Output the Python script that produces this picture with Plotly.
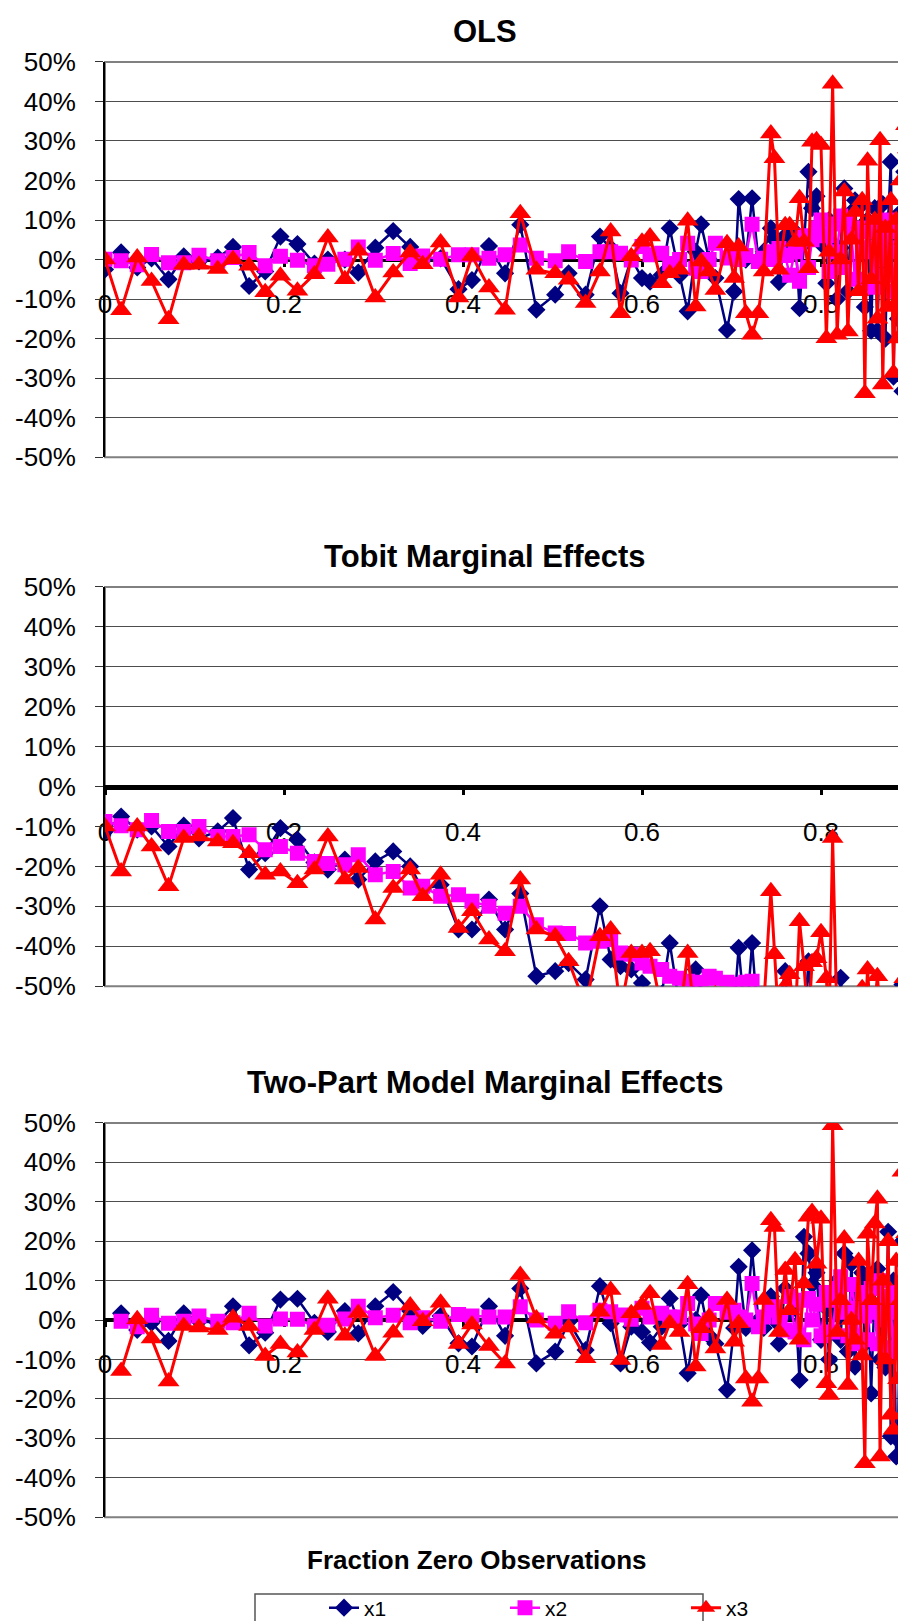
import plotly.graph_objects as go

# ---------------- data ----------------
x_frac = [
    0.000, 0.018, 0.036, 0.052, 0.071, 0.088, 0.105, 0.126, 0.143, 0.161,
    0.179, 0.196, 0.215, 0.234, 0.249, 0.268, 0.283, 0.302, 0.322, 0.341,
    0.355, 0.375, 0.395, 0.410, 0.429, 0.447, 0.464, 0.482, 0.503, 0.518,
    0.537, 0.553, 0.565, 0.576, 0.588, 0.600, 0.609, 0.622, 0.631, 0.642,
    0.651, 0.660, 0.666, 0.675, 0.682, 0.695, 0.703, 0.708, 0.716, 0.723,
    0.730, 0.736, 0.744, 0.748, 0.753, 0.760, 0.765, 0.771, 0.776, 0.781,
    0.786, 0.790, 0.795, 0.800, 0.806, 0.809, 0.813, 0.818, 0.822, 0.826,
    0.830, 0.834, 0.838, 0.842, 0.846, 0.849, 0.852, 0.856, 0.860, 0.863,
    0.866, 0.869, 0.872, 0.875, 0.878, 0.881, 0.884, 0.886, 0.889, 0.891,
    0.893, 0.895, 0.897, 0.899, 0.901,
]

ols_x1 = [
    -0.025, 0.018, -0.02, 0.003, -0.05, 0.008, -0.005, 0.005, 0.032, -0.067,
    -0.03, 0.058, 0.039, -0.01, 0.0, 0.0, -0.033, 0.03, 0.072, 0.032,
    0.0, 0.003, -0.075, -0.052, 0.034, -0.035, 0.088, -0.127, -0.089, -0.035,
    -0.089, 0.058, 0.029, -0.085, 0.003, -0.047, -0.056, -0.039, 0.079, -0.04,
    -0.131, 0.02, 0.089, 0.0, -0.047, -0.178, -0.081, 0.153, 0.0, 0.155,
    0.0, 0.02, 0.079, 0.05, -0.057, 0.06, 0.02, 0.07, -0.123, 0.04,
    0.222, 0.13, 0.16, 0.04, -0.06, 0.1, 0.04, -0.1, 0.03, 0.18,
    -0.08, 0.12, 0.15, -0.05, 0.14, -0.12, 0.10, -0.18, 0.13, -0.18,
    0.05, 0.14, -0.2, 0.1, 0.247, -0.296, 0.05, -0.15, 0.12, -0.333,
    0.222, -0.3, 0.1, -0.25, 0.05,
]
ols_x2 = [
    0.001, -0.003, -0.013, 0.013, -0.008, -0.008, 0.011, -0.003, 0.005, 0.018,
    -0.016, 0.008, -0.002, -0.016, -0.012, 0.001, 0.032, -0.002, 0.015, -0.01,
    0.009, 0.001, 0.012, 0.012, 0.003, 0.012, 0.037, 0.003, -0.003, 0.02,
    -0.005, 0.02, 0.02, 0.016, -0.001, 0.033, 0.012, 0.016, -0.01, 0.0,
    0.041, -0.022, -0.03, 0.0, 0.041, 0.004, 0.016, 0.0, 0.01, 0.089,
    -0.005, 0.003, 0.02, 0.0, 0.028, 0.01, -0.04, 0.02, -0.055, 0.06,
    -0.02, 0.05, 0.08, 0.1, 0.06, -0.03, 0.09, 0.02, 0.11, -0.02,
    0.1, 0.06, -0.05, 0.08, 0.02, -0.06, 0.07, 0.03, -0.07, 0.09,
    0.0, 0.06, -0.04, 0.1, 0.02, -0.08, 0.07, 0.03, -0.06, 0.08,
    0.0, 0.12, -0.05, 0.05, 0.02,
]
ols_x3 = [
    0.0, -0.128, 0.005, -0.054, -0.151, -0.013, -0.013, -0.024, 0.001, -0.016,
    -0.083, -0.041, -0.079, -0.037, 0.056, -0.05, 0.022, -0.096, -0.033, 0.018,
    -0.012, 0.043, -0.096, 0.009, -0.071, -0.127, 0.117, -0.026, -0.035, -0.051,
    -0.11, -0.03, 0.071, -0.136, 0.008, 0.045, 0.058, -0.06, -0.035, -0.026,
    0.098, -0.119, -0.005, -0.03, -0.077, 0.041, -0.047, 0.033, -0.136, -0.19,
    -0.136, -0.03, 0.319, 0.256, -0.026, 0.087, 0.087, 0.045, 0.155, 0.045,
    -0.022, 0.298, 0.302, 0.29, -0.199, 0.02, 0.445, -0.19, 0.0, 0.172,
    -0.182, 0.05, 0.12, -0.08, 0.15, -0.338, 0.25, -0.05, 0.10, -0.15,
    0.302, -0.316, 0.08, -0.12, 0.15, -0.287, 0.10, -0.2, 0.2, -0.1,
    0.05, 0.34, 0.281, -0.23, 0.13,
]

tobit_x1 = [
    -0.1125, -0.075, -0.108, -0.1, -0.15, -0.098, -0.13, -0.112, -0.079, -0.208,
    -0.167, -0.104, -0.133, -0.19, -0.208, -0.183, -0.233, -0.1875, -0.1625, -0.2,
    -0.258, -0.246, -0.358, -0.358, -0.283, -0.358, -0.268, -0.475, -0.4625, -0.442,
    -0.483, -0.3, -0.433, -0.45, -0.458, -0.492, -0.55, -0.52, -0.392, -0.55,
    -0.6, -0.458, -0.52, -0.6, -0.55, -0.6, -0.55, -0.404, -0.6, -0.392,
    -0.6, -0.55, -0.6, -0.65, -0.55, -0.4625, -0.6, -0.6, -0.7, -0.6,
    -0.4375, -0.6, -0.55, -0.6, -0.7, -0.6, -0.65, -0.6, -0.479, -0.6,
    -0.65, -0.6, -0.7, -0.6, -0.55, -0.6, -0.65, -0.6, -0.7, -0.6,
    -0.55, -0.6, -0.65, -0.7, -0.6, -0.6, -0.65, -0.6, -0.7, -0.496,
    -0.6, -0.65, -0.6, -0.7, -0.6,
]
tobit_x2 = [
    -0.0875, -0.098, -0.108, -0.085, -0.1125, -0.1125, -0.1, -0.125, -0.125, -0.121,
    -0.158, -0.15, -0.167, -0.1875, -0.193, -0.196, -0.171, -0.221, -0.2125, -0.254,
    -0.25, -0.275, -0.271, -0.2875, -0.3, -0.317, -0.3, -0.346, -0.367, -0.368,
    -0.392, -0.3875, -0.383, -0.417, -0.42, -0.442, -0.45, -0.458, -0.475, -0.48,
    -0.4875, -0.5, -0.49, -0.475, -0.48, -0.49, -0.5, -0.495, -0.49, -0.4875,
    -0.52, -0.53, -0.55, -0.53, -0.56, -0.55, -0.57, -0.55, -0.58, -0.56,
    -0.6, -0.57, -0.59, -0.62, -0.58, -0.61, -0.6, -0.63, -0.6, -0.64,
    -0.62, -0.65, -0.61, -0.66, -0.63, -0.64, -0.67, -0.65, -0.68, -0.66,
    -0.69, -0.67, -0.7, -0.68, -0.66, -0.71, -0.69, -0.72, -0.7, -0.73,
    -0.71, -0.74, -0.72, -0.75, -0.73,
]
tobit_x3 = [
    -0.10, -0.2125, -0.10, -0.15, -0.25, -0.129, -0.125, -0.1375, -0.142, -0.167,
    -0.221, -0.2125, -0.242, -0.208, -0.125, -0.233, -0.204, -0.333, -0.254, -0.208,
    -0.275, -0.221, -0.354, -0.3125, -0.383, -0.4125, -0.233, -0.358, -0.375, -0.4375,
    -0.55, -0.375, -0.358, -0.56, -0.417, -0.417, -0.4125, -0.56, -0.6, -0.58,
    -0.417, -0.6, -0.55, -0.6, -0.52, -0.6, -0.55, -0.62, -0.6, -0.65,
    -0.6, -0.55, -0.2625, -0.42, -0.6, -0.5, -0.47, -0.6, -0.3375, -0.45,
    -0.6, -0.44, -0.43, -0.365, -0.48, -0.6, -0.129, -0.6, -0.65, -0.55,
    -0.6, -0.7, -0.55, -0.6, -0.505, -0.6, -0.458, -0.6, -0.55, -0.475,
    -0.6, -0.65, -0.6, -0.7, -0.6, -0.55, -0.6, -0.65, -0.6, -0.6,
    -0.48, -0.6, -0.55, -0.65, -0.6,
]

twopart_x1 = [
    None, 0.017, -0.025, -0.007, -0.053, 0.017, -0.003, -0.007, 0.035, -0.064,
    -0.032, 0.052, 0.054, -0.007, -0.03, 0.023, -0.034, 0.035, 0.071, 0.023,
    -0.015, 0.01, -0.059, -0.067, 0.035, -0.04, 0.08, -0.11, -0.08, -0.004,
    -0.076, 0.086, -0.008, -0.11, -0.017, -0.03, -0.057, -0.017, 0.055, -0.01,
    -0.135, 0.0, 0.063, -0.04, -0.06, -0.177, -0.02, 0.135, -0.02, 0.177,
    0.0, -0.02, 0.06, 0.0, -0.06, 0.08, 0.02, 0.05, -0.152, 0.211,
    0.169, 0.09, 0.12, -0.05, 0.03, -0.1, 0.02, 0.10, -0.05, 0.169,
    -0.08, 0.143, -0.118, 0.06, 0.12, -0.06, 0.10, -0.186, 0.08, 0.13,
    -0.1, 0.05, -0.12, 0.224, -0.295, 0.1, -0.346, -0.304, 0.15, 0.2,
    -0.25, 0.05, -0.16, 0.08, 0.1,
]
twopart_x2 = [
    None, -0.003, -0.017, 0.012, -0.008, -0.003, 0.01, -0.003, -0.007, 0.017,
    -0.015, 0.003, 0.002, -0.015, -0.013, 0.003, 0.035, 0.006, 0.012, -0.007,
    0.006, -0.003, 0.014, 0.01, 0.008, 0.008, 0.034, 0.0, -0.008, 0.021,
    -0.007, 0.025, 0.021, 0.013, 0.002, 0.03, 0.008, 0.017, 0.008, 0.008,
    0.042, -0.01, -0.034, 0.0, 0.042, 0.02, 0.025, 0.008, 0.0, 0.093,
    -0.017, 0.008, 0.025, 0.034, 0.008, -0.025, 0.06, -0.03, 0.05, -0.05,
    0.055, 0.0, 0.04, -0.04, 0.07, 0.05, -0.03, 0.08, 0.11, 0.02,
    -0.04, 0.09, 0.03, -0.06, 0.07, 0.01, -0.05, 0.08, 0.02, -0.06,
    0.1, 0.0, -0.07, 0.06, 0.03, -0.08, 0.07, 0.02, -0.05, 0.09,
    -0.02, 0.06, -0.06, 0.04, 0.01,
]
twopart_x3 = [
    None, -0.129, 0.002, -0.047, -0.156, -0.015, -0.019, -0.025, 0.006, -0.015,
    -0.091, -0.061, -0.082, -0.025, 0.054, -0.04, 0.018, -0.091, -0.032, 0.037,
    -0.003, 0.044, -0.061, -0.011, -0.066, -0.11, 0.114, 0.004, -0.035, -0.019,
    -0.097, 0.021, 0.076, -0.101, 0.017, 0.038, 0.068, -0.063, -0.008, -0.03,
    0.091, -0.118, -0.021, 0.008, -0.072, 0.051, -0.055, -0.008, -0.148, -0.207,
    -0.148, 0.051, 0.253, 0.236, -0.03, 0.127, 0.025, 0.152, -0.05, 0.093,
    0.262, 0.274, 0.143, 0.257, -0.16, -0.19, 0.494, -0.03, 0.05, 0.207,
    -0.165, 0.0, -0.05, 0.15, -0.09, -0.363, 0.219, 0.05, 0.245, 0.308,
    -0.346, 0.1, -0.1, 0.2, -0.24, -0.278, 0.15, -0.15, 0.05, 0.376,
    -0.236, 0.22, -0.05, 0.15, -0.2,
]

panel_titles = ["OLS", "Tobit Marginal Effects", "Two-Part Model Marginal Effects"]
series_names = ["x1", "x2", "x3"]
x_tick_vals = [0, 0.2, 0.4, 0.6, 0.8]
x_tick_text = ["0", "0.2", "0.4", "0.6", "0.8"]
y_tick_vals = [-0.5, -0.4, -0.3, -0.2, -0.1, 0.0, 0.1, 0.2, 0.3, 0.4, 0.5]
y_tick_text = ["-50%", "-40%", "-30%", "-20%", "-10%", "0%", "10%", "20%", "30%", "40%", "50%"]
x_axis_title = "Fraction Zero Observations"

# ---------------- styling / layout ----------------
W, H = 906, 1621
FONT = "Liberation Sans, Arial, sans-serif"
PLOT_L, PLOT_R = 97, 904
PX_PER_UNIT = 895.0          # pixels per 1.0 on the x axis
panels_px = [(54, 450), (580, 980), (1117, 1512)]   # top, bottom (pixels)
title_px = [24, 550, 1076]
zero_line_w = [3, 5, 4]

styles = [
    dict(color="#000080", symbol="diamond", size=14, lw=2.5),
    dict(color="#FF00FF", symbol="square", size=15, lw=2.5),
    dict(color="#FF0000", symbol="triangle-up", size=19, lw=3),
]

def py(px):
    return 1 - px / H

data_panels = [
    (ols_x1, ols_x2, ols_x3),
    (tobit_x1, tobit_x2, tobit_x3),
    (twopart_x1, twopart_x2, twopart_x3),
]

fig = go.Figure()
xdom = [PLOT_L / W, PLOT_R / W]
x_max = (PLOT_R - PLOT_L) / PX_PER_UNIT
layout_axes = {}
shapes = []
annotations = []

for i, (series, (top, bot)) in enumerate(zip(data_panels, panels_px)):
    k = "" if i == 0 else str(i + 1)
    xa, ya = "x" + k, "y" + k
    ydom = [py(bot), py(top)]
    for j, vals in enumerate(series):
        st = styles[j]
        fig.add_trace(go.Scatter(
            x=x_frac, y=vals, xaxis=xa, yaxis=ya,
            mode="lines+markers", name=series_names[j],
            legendgroup=series_names[j], showlegend=(i == 0),
            line=dict(color=st["color"], width=st["lw"]),
            marker=dict(color=st["color"], symbol=st["symbol"], size=st["size"],
                        line=dict(width=0)),
            connectgaps=False,
        ))
    layout_axes["xaxis" + k] = dict(
        domain=xdom, range=[0, x_max],
        anchor="free", position=(ydom[0] + ydom[1]) / 2,
        tickmode="array", tickvals=x_tick_vals, ticktext=x_tick_text,
        showline=True, linecolor="black", linewidth=zero_line_w[i],
        ticks="outside", ticklen=5, tickwidth=3, tickcolor="black",
        ticklabelstandoff=15,
        showgrid=False, zeroline=False, layer="below traces",
        tickfont=dict(family=FONT, size=26, color="black"),
        fixedrange=True, automargin=False,
    )
    layout_axes["yaxis" + k] = dict(
        domain=ydom, range=[-0.5, 0.5], anchor=xa,
        tickmode="array", tickvals=y_tick_vals, ticktext=y_tick_text,
        showgrid=True, gridcolor="#4d4d4d", gridwidth=1,
        showline=True, linecolor="black", linewidth=2,
        ticks="outside", ticklen=8, tickwidth=1, tickcolor="#333333",
        ticklabelstandoff=14,
        zeroline=False, layer="below traces",
        tickfont=dict(family=FONT, size=26, color="black"),
        fixedrange=True, automargin=False,
    )
    shapes.append(dict(
        type="rect", xref="paper", yref="paper",
        x0=xdom[0], x1=xdom[1], y0=ydom[0], y1=ydom[1],
        line=dict(color="#808080", width=2), layer="below",
    ))
    annotations.append(dict(
        text="<b>%s</b>" % panel_titles[i], xref="paper", yref="paper",
        x=477 / W, y=py(title_px[i]), xanchor="center", yanchor="middle",
        showarrow=False, font=dict(family=FONT, size=31, color="black"),
    ))

annotations.append(dict(
    text="<b>%s</b>" % x_axis_title, xref="paper", yref="paper",
    x=469 / W, y=py(1555), xanchor="center", yanchor="middle",
    showarrow=False, font=dict(family=FONT, size=26, color="black"),
))

# legend frame
shapes.append(dict(
    type="rect", xref="paper", yref="paper",
    x0=247 / W, x1=695 / W, y0=py(1618), y1=py(1589),
    line=dict(color="#555555", width=1.5), fillcolor="white", layer="below",
))

fig.update_layout(
    width=W, height=H,
    margin=dict(l=0, r=0, t=0, b=0),
    paper_bgcolor="white", plot_bgcolor="rgba(0,0,0,0)",
    font=dict(family=FONT, color="black"),
    showlegend=True,
    legend=dict(
        orientation="h", x=316 / W, xanchor="left", y=py(1603), yanchor="middle",
        entrywidth=136, entrywidthmode="pixels",
        font=dict(family=FONT, size=21, color="black"),
        bgcolor="rgba(0,0,0,0)", borderwidth=0,
        itemclick=False, itemdoubleclick=False,
    ),
    shapes=shapes,
    annotations=annotations,
    **layout_axes,
)

fig.write_html("out.html")
